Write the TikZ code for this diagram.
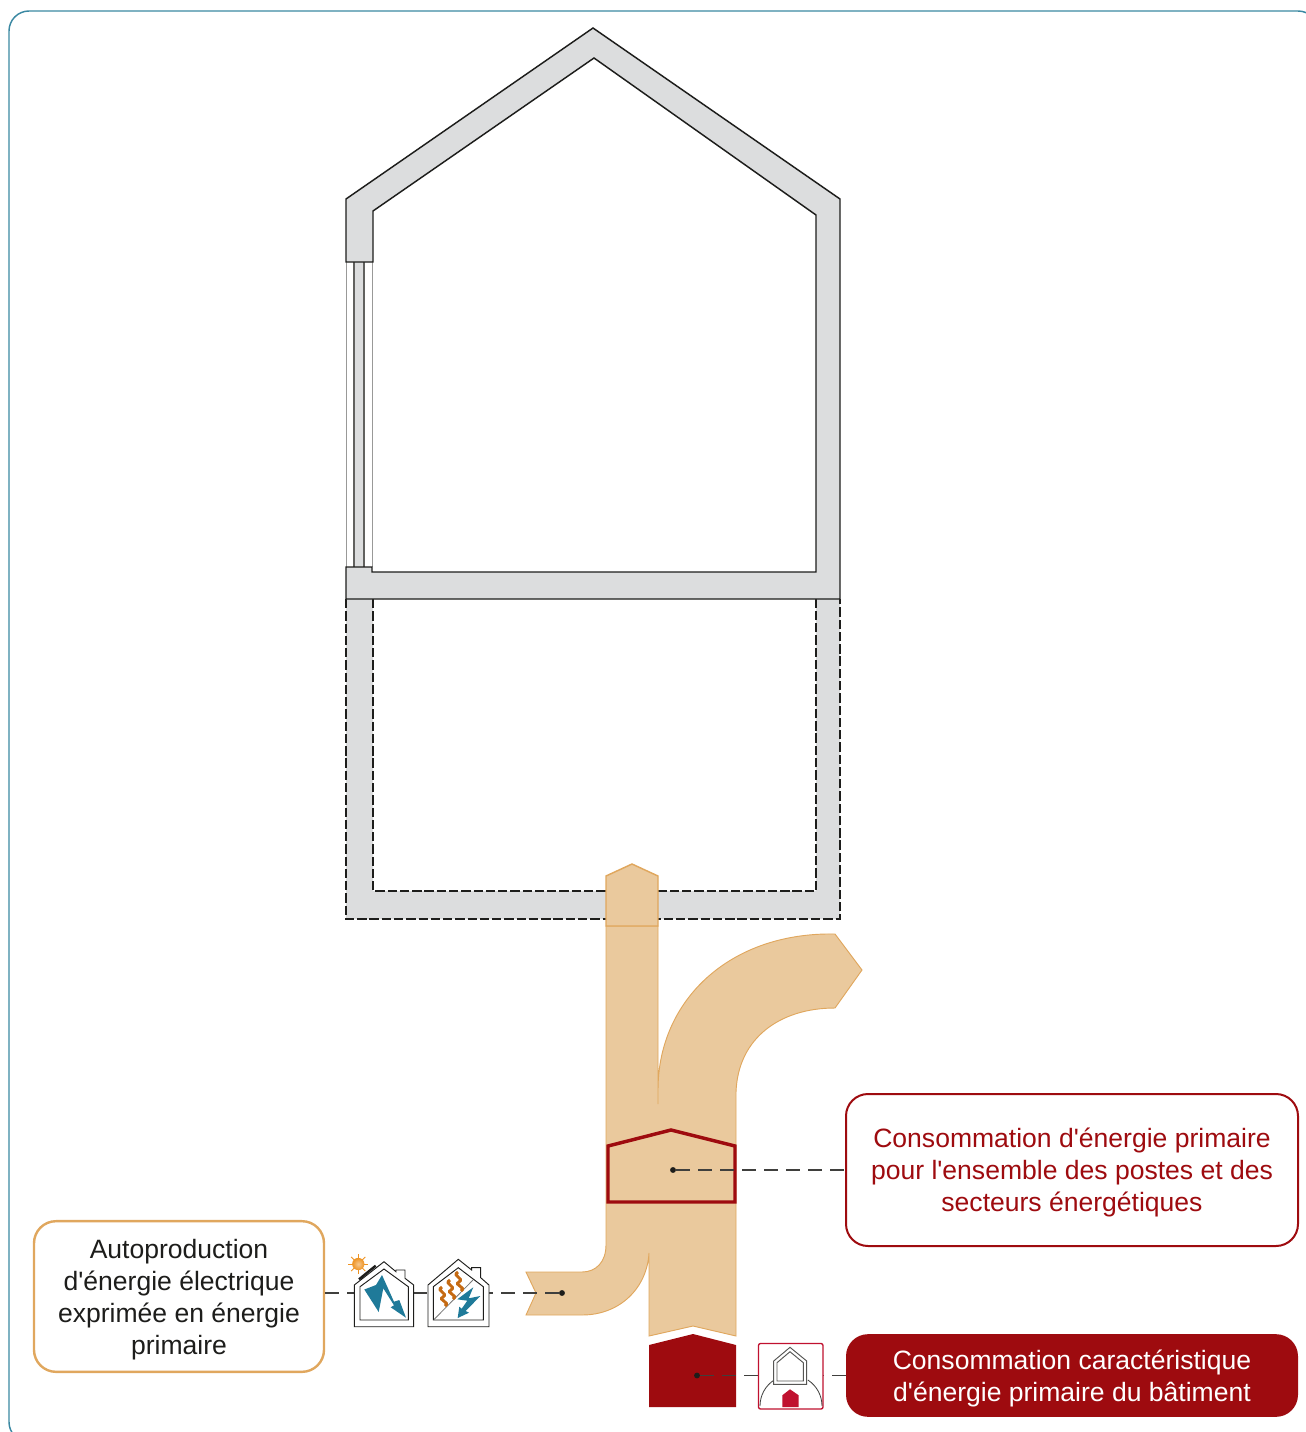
\documentclass[tikz,border=0pt]{standalone}
\usepackage{fontspec}
\newfontfamily\boxfont{Liberation Sans}
\usepackage{xcolor}

\definecolor{framecol}{HTML}{3A88A2}
\definecolor{wallcol}{HTML}{DCDDDE}
\definecolor{linecol}{HTML}{1D1D1B}
\definecolor{flowcol}{HTML}{EAC99D}
\definecolor{flowedge}{HTML}{E0A75E}
\definecolor{redcol}{HTML}{9E0B0F}
\definecolor{iconred}{HTML}{C0112F}
\definecolor{tealcol}{HTML}{1F7A99}
\definecolor{heatcol}{HTML}{C56A12}
\definecolor{suncol}{HTML}{EE9322}

\newcommand{\topstrut}{\rule{0pt}{19pt}}

\tikzset{
  wall/.style={fill=wallcol,draw=linecol,line width=1.1pt,line join=miter},
  wallpart/.style={draw=linecol,line width=.9pt,dash pattern=on 7pt off 2.2pt},
  flow/.style={fill=flowcol,draw=flowedge,line width=.7pt,line join=miter},
  textbox/.style={rectangle,rounded corners=16.5pt,align=center,inner sep=0pt,outer sep=0pt,
    font=\boxfont\fontsize{19.9}{24}\selectfont},
  leader/.style={draw=linecol!85,line width=.85pt,dash pattern=on 10.5pt off 6pt},
  dotmark/.style={circle,fill=linecol,inner sep=0pt,minimum size=4.4pt},
  iconline/.style={fill=white,draw=linecol,line width=.7pt,line join=miter}
}

\begin{document}
\begin{tikzpicture}[x=0.75pt,y=-0.75pt]

\useasboundingbox (0,0) rectangle (1306,1432);
\clip (0,0) rectangle (1306,1432);

%------------------------------------------------
% Frame
%------------------------------------------------

\draw[framecol,line width=1.1pt,rounded corners=15pt] (9,11) rectangle (1318,1442);

%------------------------------------------------
% Basement
%------------------------------------------------

\fill[wallcol,even odd rule] (346,599) rectangle (840,919) (373,590) rectangle (816,891);
\draw[wallpart] (346,599) -- (346,919) -- (840,919) -- (840,599);
\draw[wallpart] (373,599) -- (373,891) -- (816,891) -- (816,599);

%------------------------------------------------
% Window
%------------------------------------------------

\fill[wallcol] (354,262) rectangle (364,567);
\draw[linecol!45,line width=.7pt] (346,262) -- (346,567);
\draw[linecol!45,line width=.7pt] (372.5,262) -- (372.5,567);
\draw[linecol!70,line width=.8pt] (354,262) -- (354,567);
\draw[linecol!70,line width=.8pt] (364,262) -- (364,567);

%------------------------------------------------
% Walls
%------------------------------------------------

\draw[wall] (346,262) -- (346,199) -- (593,28) -- (840,199) -- (840,599) -- (346,599)
  -- (346,567) -- (372,567) -- (372,572) -- (816,572) -- (816,215) -- (594,58)
  -- (373,211) -- (373,262) -- cycle;

%------------------------------------------------
% Flows
%------------------------------------------------

\draw[flow] (606,926) -- (606,1245) .. controls (606,1262) and (596,1272) .. (582,1272)
  -- (526,1272) -- (536,1293) -- (526,1315) -- (582,1315)
  .. controls (620,1315) and (647,1288) .. (649,1253) -- (649,1336) -- (693,1326) -- (736,1336)
  -- (736,1092) .. controls (738,1038) and (780,1008) .. (835,1008)
  -- (862,970) -- (835,934) .. controls (730,932) and (658,1000) .. (658,1090)
  -- (658,1104) -- (658,926) -- cycle;
\draw[flow,line width=1.1pt] (606,876) -- (632,864) -- (658,876) -- (658,926) -- (606,926) -- cycle;

\draw[redcol,line width=2.6pt,line join=miter] (608,1146) -- (671,1130) -- (735,1146) -- (735,1202) -- (608,1202) -- cycle;
\fill[redcol] (649,1345) -- (693,1334) -- (736,1345) -- (736,1407) -- (649,1407) -- cycle;

%------------------------------------------------
% Text boxes
%------------------------------------------------

\node[textbox,draw=flowedge,line width=1.8pt,fill=white,text=linecol,minimum width=217.5pt,minimum height=113pt]
  (selfbox) at (179,1296.5) {\topstrut Autoproduction\\d'énergie électrique\\exprimée en énergie\\primaire};
\node[textbox,draw=redcol,line width=1.5pt,fill=white,text=redcol,minimum width=339pt,minimum height=114pt]
  (allbox) at (1072,1170) {\topstrut Consommation d'énergie primaire\\pour l'ensemble des postes et des\\secteurs énergétiques};
\node[textbox,fill=redcol,text=white,minimum width=339pt,minimum height=62pt]
  (mainbox) at (1072,1375.5) {\topstrut Consommation caractéristique\\d'énergie primaire du bâtiment};

%------------------------------------------------
% Leaders
%------------------------------------------------

\node[dotmark] (selfdot) at (562,1293) {};
\node[dotmark] (alldot) at (673,1170) {};
\node[dotmark] (maindot) at (697,1375.5) {};

\draw[leader] (selfdot) -- (selfbox.east |- selfdot);
\draw[leader] (alldot) -- (allbox.west |- alldot);
\draw[leader] (maindot) -- (mainbox.west |- maindot);

%------------------------------------------------
% Icon: solar house
%------------------------------------------------

\draw[iconline] (354.3,1326.7) -- (354.3,1285) -- (384,1261.7) -- (396,1271.7) -- (396,1270) -- (405,1270)
  -- (405,1278.3) -- (413.7,1285) -- (413.7,1326.7) -- cycle;
\draw[iconline] (360,1320) -- (360,1286.7) -- (384,1269) -- (408.3,1286.7) -- (408.3,1320) -- cycle;
\fill[tealcol] (364.3,1289.5) -- (376,1285) -- (382,1275) -- (394,1301.7) -- (399.3,1300)
  -- (406,1317.7) -- (390.7,1307.3) -- (394,1305.3) -- (383.3,1288.3) -- (378.7,1312) -- cycle;
\draw[linecol,line width=1.8pt] (359,1279.3) -- (375.7,1265.7);
\foreach \ang in {0,45,...,315}
  \draw[suncol,line width=.7pt] (358.3,1264) ++(\ang:5) -- ++(\ang:5);
\shade[inner color=white!50!suncol,outer color=suncol] (358.3,1264) circle (4.6pt);

%------------------------------------------------
% Icon: heat and power house
%------------------------------------------------

\draw[iconline] (428,1326.7) -- (428,1285) -- (458.3,1259.3) -- (471.7,1270) -- (471.7,1267.7) -- (480.7,1267.7)
  -- (480.7,1277.7) -- (489,1285) -- (489,1326.7) -- cycle;
\draw[iconline] (433.3,1320) -- (433.3,1286.7) -- (458.3,1267.7) -- (483.3,1286.7) -- (483.3,1320) -- cycle;
\draw[linecol!60,line width=.6pt] (434,1319.5) -- (473,1280);
\foreach \wx/\wy in {442/1287,450/1280,458/1272}
  \draw[heatcol,line width=2.2pt] (\wx,\wy) .. controls (\wx-7,\wy+4) and (\wx+7,\wy+6) .. (\wx+1,\wy+10)
    .. controls (\wx-5,\wy+13) and (\wx+9,\wy+15) .. (\wx+3,\wy+19);
\fill[tealcol] (473.3,1287.3) -- (457.3,1299.3) -- (467.3,1300.7) -- (461.7,1308.7) -- (459.3,1306.7) -- (457.7,1318)
  -- (469,1312.7) -- (465.7,1311) -- (480.3,1296) -- (468.7,1298.3) -- cycle;

%------------------------------------------------
% Icon: building on ground
%------------------------------------------------

\draw[iconred,line width=1pt,fill=white,rounded corners=1.5pt] (758.5,1343.5) rectangle (823,1409);
\draw[linecol!85,line width=.6pt] (760,1406) arc[start angle=180,end angle=237,radius=31];
\draw[linecol!85,line width=.6pt] (822,1406) arc[start angle=0,end angle=-57,radius=31];
\draw[iconline,draw=linecol!75] (773.7,1361) -- (790,1347.3) -- (806.7,1361) -- (806.7,1384.3) -- (773.7,1384.3) -- cycle;
\draw[iconline,draw=linecol!75] (777,1362.7) -- (790,1351.7) -- (803.3,1362.7) -- (803.3,1381) -- (777,1381) -- cycle;
\fill[iconred] (782.3,1395.3) -- (790,1389.3) -- (798.7,1395.3) -- (798.7,1407) -- (782.3,1407) -- cycle;

\end{tikzpicture}
\end{document}
